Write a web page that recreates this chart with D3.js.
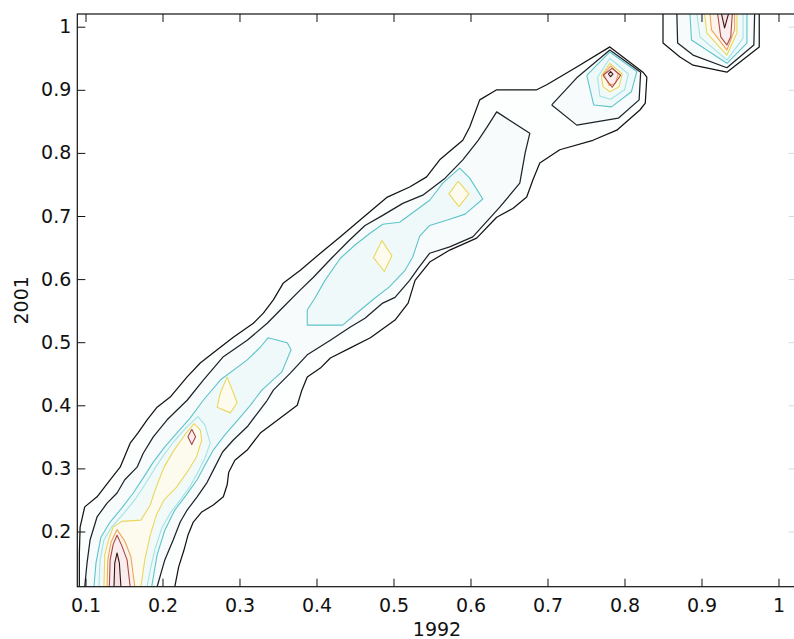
<!DOCTYPE html>
<html>
<head>
<meta charset="utf-8">
<script src="https://cdn.jsdelivr.net/npm/d3@7"></script>
<style>
  html, body { margin: 0; padding: 0; background: #fff; }
  svg { display: block; }
  text { font-family: "DejaVu Sans", "Liberation Sans", sans-serif; fill: #111; }
</style>
</head>
<body>
<svg id="chart" width="794" height="639"></svg>
<script>
// ---- axis limits, ticks and titles ----
const xLimits = [0.08935, 1.02364];
const yLimits = [0.11252, 1.02013];
const xTicks = [0.1, 0.2, 0.3, 0.4, 0.5, 0.6, 0.7, 0.8, 0.9, 1];
const yTicks = [0.2, 0.3, 0.4, 0.5, 0.6, 0.7, 0.8, 0.9, 1];
const xTitle = "1992";
const yTitle = "2001";

// ---- contour paths, [x, y] in data units, one array per path ----
// level 1 (outermost)
const band1Main = [[0.092,0.1125],[0.092,0.163],[0.093,0.207],[0.099,0.239],[0.115,0.255],[0.132,0.282],[0.145,0.302],[0.158,0.340],[0.168,0.356],[0.180,0.377],[0.193,0.397],[0.210,0.413],[0.232,0.445],[0.249,0.467],[0.271,0.488],[0.292,0.508],[0.318,0.530],[0.331,0.546],[0.344,0.567],[0.357,0.594],[0.379,0.614],[0.405,0.641],[0.431,0.667],[0.457,0.694],[0.492,0.730],[0.521,0.746],[0.543,0.762],[0.560,0.789],[0.590,0.820],[0.599,0.841],[0.612,0.884],[0.634,0.900],[0.686,0.900],[0.699,0.908],[0.738,0.936],[0.781,0.968],[0.824,0.928],[0.829,0.920],[0.827,0.879],[0.820,0.868],[0.790,0.836],[0.759,0.820],[0.716,0.805],[0.690,0.784],[0.681,0.757],[0.673,0.730],[0.655,0.712],[0.634,0.698],[0.608,0.665],[0.573,0.646],[0.547,0.627],[0.528,0.598],[0.519,0.562],[0.502,0.535],[0.470,0.507],[0.444,0.491],[0.418,0.475],[0.405,0.459],[0.388,0.445],[0.381,0.424],[0.375,0.400],[0.353,0.380],[0.327,0.356],[0.310,0.329],[0.294,0.313],[0.286,0.294],[0.284,0.274],[0.279,0.255],[0.266,0.242],[0.251,0.231],[0.240,0.215],[0.233,0.194],[0.228,0.171],[0.221,0.144],[0.216,0.1125]];
const band1Top = [[0.850,1.0201],[0.850,0.974],[0.872,0.952],[0.889,0.939],[0.933,0.928],[0.975,0.968],[0.975,1.0201]];

// level 2
const band2Main = [[0.099,0.1125],[0.102,0.150],[0.106,0.187],[0.115,0.223],[0.128,0.245],[0.141,0.261],[0.151,0.282],[0.167,0.302],[0.175,0.324],[0.188,0.350],[0.206,0.377],[0.232,0.408],[0.253,0.440],[0.279,0.477],[0.310,0.503],[0.336,0.530],[0.353,0.551],[0.379,0.583],[0.396,0.603],[0.421,0.635],[0.443,0.662],[0.463,0.685],[0.486,0.701],[0.512,0.720],[0.538,0.733],[0.567,0.760],[0.590,0.789],[0.610,0.820],[0.621,0.840],[0.634,0.865],[0.677,0.831],[0.671,0.800],[0.664,0.752],[0.638,0.714],[0.603,0.667],[0.573,0.651],[0.547,0.641],[0.532,0.617],[0.521,0.598],[0.502,0.571],[0.486,0.562],[0.463,0.538],[0.444,0.524],[0.418,0.503],[0.388,0.480],[0.366,0.451],[0.344,0.424],[0.336,0.408],[0.323,0.387],[0.310,0.366],[0.292,0.345],[0.278,0.326],[0.268,0.302],[0.258,0.278],[0.245,0.255],[0.232,0.234],[0.223,0.215],[0.214,0.187],[0.203,0.155],[0.193,0.1125]];
const band2Peak = [[0.7055,0.876],[0.738,0.919],[0.781,0.963],[0.821,0.928],[0.819,0.884],[0.792,0.855],[0.738,0.844],[0.7055,0.876]];
const band2Top = [[0.868,1.0201],[0.869,0.974],[0.889,0.955],[0.933,0.935],[0.968,0.971],[0.969,1.0201]];

// level 3
const band3Low = [[0.111,0.1125],[0.1136,0.150],[0.120,0.191],[0.132,0.215],[0.147,0.237],[0.162,0.261],[0.175,0.285],[0.188,0.310],[0.203,0.334],[0.220,0.358],[0.236,0.380],[0.253,0.408],[0.275,0.440],[0.310,0.472],[0.327,0.492],[0.337,0.507],[0.362,0.499],[0.367,0.488],[0.355,0.453],[0.329,0.424],[0.314,0.400],[0.298,0.377],[0.281,0.353],[0.266,0.329],[0.255,0.305],[0.245,0.282],[0.231,0.258],[0.216,0.234],[0.203,0.202],[0.193,0.163],[0.186,0.1125]];
const band3Mid = [[0.388,0.551],[0.388,0.527],[0.434,0.527],[0.457,0.551],[0.476,0.570],[0.495,0.588],[0.515,0.614],[0.525,0.635],[0.534,0.668],[0.547,0.685],[0.573,0.695],[0.593,0.703],[0.616,0.727],[0.599,0.760],[0.586,0.776],[0.564,0.752],[0.547,0.725],[0.508,0.690],[0.486,0.687],[0.470,0.673],[0.450,0.654],[0.431,0.633],[0.411,0.598],[0.398,0.570],[0.388,0.551]];
const band3Peak = [[0.751,0.923],[0.781,0.960],[0.816,0.929],[0.809,0.897],[0.783,0.873],[0.760,0.876],[0.751,0.923]];
const band3Top = [[0.885,1.0201],[0.887,0.979],[0.933,0.942],[0.959,0.974],[0.959,1.0201]];

// level 4
const band4Low = [[0.1175,0.1125],[0.119,0.155],[0.124,0.187],[0.134,0.207],[0.150,0.229],[0.164,0.250],[0.177,0.274],[0.189,0.298],[0.201,0.320],[0.215,0.343],[0.231,0.365],[0.246,0.382],[0.255,0.369],[0.262,0.340],[0.255,0.316],[0.246,0.294],[0.236,0.272],[0.223,0.250],[0.210,0.229],[0.199,0.205],[0.190,0.171],[0.184,0.139],[0.180,0.1125]];
const band4Peak = [[0.765,0.920],[0.781,0.950],[0.805,0.925],[0.800,0.900],[0.782,0.885],[0.768,0.890],[0.765,0.920]];
const band4Top = [[0.894,1.0201],[0.898,0.984],[0.933,0.947],[0.954,0.982],[0.954,1.0201]];

// level 5
const band5Low = [[0.124,0.1125],[0.125,0.163],[0.130,0.187],[0.136,0.207],[0.147,0.216],[0.172,0.218],[0.184,0.242],[0.192,0.271],[0.202,0.302],[0.215,0.329],[0.229,0.353],[0.241,0.371],[0.249,0.361],[0.251,0.345],[0.244,0.318],[0.232,0.294],[0.218,0.270],[0.202,0.250],[0.192,0.226],[0.184,0.194],[0.177,0.155],[0.172,0.1125]];
const band5Knot = [[0.284,0.445],[0.297,0.404],[0.288,0.388],[0.271,0.397],[0.275,0.419],[0.284,0.445]];
const band5Mid1 = [[0.485,0.661],[0.498,0.637],[0.488,0.612],[0.474,0.634],[0.485,0.661]];
const band5Mid2 = [[0.584,0.755],[0.598,0.735],[0.585,0.715],[0.572,0.735],[0.584,0.755]];
const band5Peak = [[0.770,0.922],[0.781,0.942],[0.797,0.925],[0.793,0.905],[0.781,0.897],[0.772,0.905],[0.770,0.922]];
const band5Top = [[0.904,1.0201],[0.907,0.990],[0.933,0.955],[0.946,0.990],[0.946,1.0201]];

// level 6
const band6Low = [[0.128,0.1125],[0.129,0.155],[0.133,0.183],[0.141,0.203],[0.151,0.185],[0.159,0.160],[0.164,0.1125]];
const band6Peak = [[0.773,0.925],[0.782,0.938],[0.792,0.925],[0.788,0.910],[0.780,0.907],[0.773,0.925]];
const band6Top = [[0.911,1.0201],[0.913,0.995],[0.933,0.963],[0.943,0.995],[0.943,1.0201]];

// level 7
const band7Low = [[0.131,0.1125],[0.132,0.155],[0.136,0.180],[0.141,0.194],[0.147,0.178],[0.154,0.155],[0.158,0.1125]];
const band7Knot = [[0.238,0.362],[0.243,0.350],[0.238,0.338],[0.233,0.350],[0.238,0.362]];
const band7Peak = [[0.772,0.923],[0.784,0.934],[0.795,0.923],[0.784,0.904],[0.772,0.923]];
const band7Top = [[0.921,1.0201],[0.925,0.984],[0.933,0.971],[0.938,0.984],[0.940,1.0201]];

// level 8 (innermost)
const band8Low = [[0.137,0.1125],[0.138,0.150],[0.141,0.166],[0.144,0.150],[0.146,0.1125]];
const band8Peak = [[0.779,0.925],[0.782,0.929],[0.785,0.925],[0.782,0.921],[0.779,0.925]];
const band8Top = [[0.926,1.0201],[0.930,0.998],[0.935,1.0201]];

const contours = [
  { level: 1, paths: [band1Main, band1Top] },
  { level: 2, paths: [band2Main, band2Peak, band2Top] },
  { level: 3, paths: [band3Low, band3Mid, band3Peak, band3Top] },
  { level: 4, paths: [band4Low, band4Peak, band4Top] },
  { level: 5, paths: [band5Low, band5Knot, band5Mid1, band5Mid2, band5Peak, band5Top] },
  { level: 6, paths: [band6Low, band6Peak, band6Top] },
  { level: 7, paths: [band7Low, band7Knot, band7Peak, band7Top] },
  { level: 8, paths: [band8Low, band8Peak, band8Top] }
];

// ---- styling ----
const lineColor = d3.scaleOrdinal()
  .domain([1, 2, 3, 4, 5, 6, 7, 8])
  .range(["#141414", "#1d2328", "#5ec4ca", "#a6e2e6", "#ead75e", "#efa45e", "#a84848", "#3a1212"]);
const fillColor = d3.scaleOrdinal()
  .domain([1, 2, 3, 4, 5, 6, 7, 8])
  .range(["#fdfefe", "#f7fbfc", "#eff9fa", "#f1faf9", "#fdfbee", "#fcf3ea", "#f9eded", "#f5e3e3"]);

const frame = { left: 77.3, top: 14, right: 796.7, bottom: 586.7 };

const svg = d3.select("#chart");
const x = d3.scaleLinear().domain(xLimits).range([frame.left, frame.right]);
const y = d3.scaleLinear().domain(yLimits).range([frame.bottom, frame.top]);

svg.append("defs").append("clipPath").attr("id", "plot-clip")
  .append("rect")
  .attr("x", frame.left).attr("y", frame.top)
  .attr("width", frame.right - frame.left).attr("height", frame.bottom - frame.top);

const line = d3.line().x(d => x(d[0])).y(d => y(d[1]));

const plot = svg.append("g").attr("clip-path", "url(#plot-clip)");

// light tint inside each level
plot.append("g").selectAll("g").data(contours).join("g")
  .selectAll("path").data(c => c.paths.map(p => ({ level: c.level, pts: p }))).join("path")
  .attr("d", d => line(d.pts) + "Z")
  .attr("fill", d => fillColor(d.level))
  .attr("stroke", "none");

// contour lines
plot.append("g").selectAll("g").data(contours).join("g")
  .selectAll("path").data(c => c.paths.map(p => ({ level: c.level, pts: p }))).join("path")
  .attr("d", d => line(d.pts))
  .attr("fill", "none")
  .attr("stroke", d => lineColor(d.level))
  .attr("stroke-width", d => d.level <= 2 ? 1.25 : 1.1)
  .attr("stroke-linejoin", "round");

// ---- axes (ticks point inward, box around the plot) ----
const fmt = d3.format("~g");

const gx = svg.append("g").attr("transform", `translate(0,${frame.bottom})`)
  .call(d3.axisBottom(x).tickValues(xTicks).tickFormat(fmt).tickSize(-8).tickSizeOuter(0).tickPadding(12));
const gy = svg.append("g").attr("transform", `translate(${frame.left},0)`)
  .call(d3.axisLeft(y).tickValues(yTicks).tickFormat(fmt).tickSize(-8).tickSizeOuter(0).tickPadding(6));
const gt = svg.append("g").attr("transform", `translate(0,${frame.top})`)
  .call(d3.axisTop(x).tickValues(xTicks).tickFormat("").tickSize(-8).tickSizeOuter(0));
const gr = svg.append("g").attr("transform", `translate(${frame.right},0)`)
  .call(d3.axisRight(y).tickValues(yTicks).tickFormat("").tickSize(-8).tickSizeOuter(0));

[gx, gy, gt, gr].forEach(g => {
  g.select(".domain").remove();
  g.selectAll("text").style("font-size", "19px").attr("fill", "#111");
  g.selectAll("line").attr("stroke", "#111");
});
gr.selectAll("line").attr("stroke", "#d8d8d8");

svg.append("rect")
  .attr("x", frame.left).attr("y", frame.top)
  .attr("width", frame.right - frame.left).attr("height", frame.bottom - frame.top)
  .attr("fill", "none").attr("stroke", "#111").attr("stroke-width", 1.2);

svg.append("text")
  .attr("x", (frame.left + frame.right) / 2).attr("y", 636)
  .attr("text-anchor", "middle")
  .style("font-size", "19px")
  .text(xTitle);

svg.append("text")
  .attr("transform", `translate(28,${(frame.top + frame.bottom) / 2}) rotate(-90)`)
  .attr("text-anchor", "middle")
  .style("font-size", "19px")
  .text(yTitle);
</script>
</body>
</html>
